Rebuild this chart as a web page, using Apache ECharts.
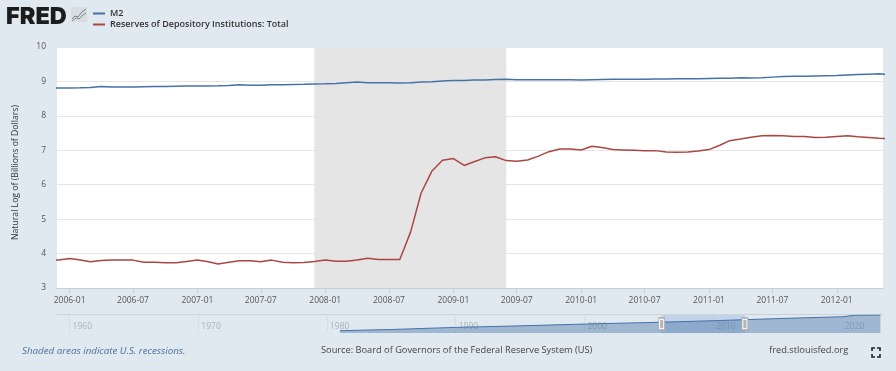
<!DOCTYPE html>
<html>
<head>
<meta charset="utf-8">
<title>M2 and Reserves</title>
<script src="https://cdn.jsdelivr.net/npm/echarts@6/dist/echarts.min.js"></script>
<style>
html, body { margin: 0; padding: 0; background: #e1e9f0; }
#main { width: 896px; height: 371px; }
</style>
</head>
<body>
<div id="main"></div>
<script>
var months = [
    '2005-11', '2005-12',
    '2006-01', '2006-02', '2006-03', '2006-04', '2006-05', '2006-06', '2006-07', '2006-08', '2006-09', '2006-10', '2006-11', '2006-12',
    '2007-01', '2007-02', '2007-03', '2007-04', '2007-05', '2007-06', '2007-07', '2007-08', '2007-09', '2007-10', '2007-11', '2007-12',
    '2008-01', '2008-02', '2008-03', '2008-04', '2008-05', '2008-06', '2008-07', '2008-08', '2008-09', '2008-10', '2008-11', '2008-12',
    '2009-01', '2009-02', '2009-03', '2009-04', '2009-05', '2009-06', '2009-07', '2009-08', '2009-09', '2009-10', '2009-11', '2009-12',
    '2010-01', '2010-02', '2010-03', '2010-04', '2010-05', '2010-06', '2010-07', '2010-08', '2010-09', '2010-10', '2010-11', '2010-12',
    '2011-01', '2011-02', '2011-03', '2011-04', '2011-05', '2011-06', '2011-07', '2011-08', '2011-09', '2011-10', '2011-11', '2011-12',
    '2012-01', '2012-02', '2012-03', '2012-04', '2012-05', '2012-06'
];

var m2 = [
    8.81, 8.81,
    8.81, 8.815, 8.825, 8.85, 8.835, 8.835, 8.84, 8.845, 8.85, 8.855, 8.86, 8.865,
    8.87, 8.87, 8.875, 8.885, 8.90, 8.89, 8.89, 8.90, 8.905, 8.91, 8.915, 8.925,
    8.93, 8.94, 8.96, 8.98, 8.96, 8.96, 8.96, 8.955, 8.965, 8.985, 8.99, 9.01,
    9.03, 9.03, 9.04, 9.04, 9.055, 9.06, 9.05, 9.05, 9.05, 9.05, 9.05, 9.05,
    9.045, 9.05, 9.055, 9.06, 9.065, 9.06, 9.065, 9.07, 9.07, 9.075, 9.08, 9.08,
    9.085, 9.09, 9.095, 9.105, 9.10, 9.11, 9.125, 9.14, 9.15, 9.15, 9.16, 9.165,
    9.17, 9.19, 9.20, 9.21, 9.22, 9.20
];

var reserves = [
    3.81, 3.81,
    3.855, 3.81, 3.76, 3.80, 3.815, 3.81, 3.81, 3.75, 3.75, 3.73, 3.73, 3.77,
    3.81, 3.76, 3.70, 3.75, 3.79, 3.79, 3.76, 3.81, 3.75, 3.73, 3.74, 3.77,
    3.81, 3.78, 3.78, 3.81, 3.865, 3.83, 3.83, 3.83, 4.63, 5.76, 6.40, 6.71,
    6.76, 6.56, 6.665, 6.78, 6.81, 6.70, 6.68, 6.72, 6.83, 6.96, 7.04, 7.04,
    7.01, 7.116, 7.08, 7.02, 7.01, 7.00, 6.99, 6.99, 6.95, 6.94, 6.95, 6.98,
    7.02, 7.145, 7.28, 7.33, 7.38, 7.42, 7.43, 7.42, 7.40, 7.40, 7.37, 7.38,
    7.40, 7.42, 7.39, 7.37, 7.35, 7.34
];

var xTicks = ['2006-01', '2006-07', '2007-01', '2007-07', '2008-01', '2008-07', '2009-01', '2009-07', '2010-01', '2010-07', '2011-01', '2011-07', '2012-01'];
var yTicks = [3, 4, 5, 6, 7, 8, 9, 10];
var recession = ['2007-12-01', '2009-06-01'];
var viewStart = '2005-11-26';
var viewEnd = '2012-05-12';

var navYears = ['1981', '1985', '1990', '1995', '2000', '2005', '2010', '2015', '2019', '2020', '2021', '2022', '2023'];
var navLevels = [7.40, 7.60, 7.95, 8.20, 8.50, 8.75, 9.05, 9.40, 9.65, 9.70, 9.95, 9.98, 10.00];
var navTicks = ['1960', '1970', '1980', '1990', '2000', '2010', '2020'];
var navFrom = '2006-01-01';
var navTo = '2012-06-20';

var FONT = '"Open Sans", sans-serif';
var BLUE = '#4572a7';
var RED = '#aa4643';

function toTime(s) {
    var p = s.split('-');
    return new Date(+p[0], (p[1] || 1) - 1, p[2] || 1).getTime();
}
function pairs(keys, vals) {
    return keys.map(function (k, i) { return [toTime(k), vals[i]]; });
}
function corner(points) {
    return {
        type: 'polyline',
        shape: { points: points },
        style: { stroke: '#222', lineWidth: 1.6, fill: null }
    };
}
function monthLabel(v) {
    var d = new Date(v);
    var m = d.getMonth() + 1;
    return d.getFullYear() + '-' + (m < 10 ? '0' + m : m);
}

var myChart = echarts.init(document.getElementById('main'), null, { renderer: 'canvas' });

// time scale breaks on customValues, so the x axes are plain value axes holding timestamps
myChart.setOption({
    animation: false,
    backgroundColor: '#e1e9f0',
    textStyle: { fontFamily: FONT },
    legend: {
        data: ['M2', 'Reserves of Depository Institutions: Total'],
        orient: 'vertical',
        left: 88,
        top: 4,
        itemWidth: 12,
        itemHeight: 2,
        itemGap: 2,
        icon: 'rect',
        selectedMode: false,
        textStyle: { color: '#333', fontSize: 9, fontWeight: 600, fontFamily: FONT }
    },
    grid: [
        { left: 57, right: 13, top: 47, height: 241, show: true, backgroundColor: '#fff', borderWidth: 0 },
        { left: 57, right: 13, top: 315, height: 18, show: false }
    ],
    xAxis: [
        {
            type: 'value',
            gridIndex: 0,
            min: toTime(viewStart),
            max: toTime(viewEnd),
            axisLine: { show: true, lineStyle: { color: '#c0d0e0', width: 1 } },
            axisTick: { show: true, length: 5, lineStyle: { color: '#c0d0e0' }, customValues: xTicks.map(toTime) },
            axisLabel: {
                color: '#555',
                fontSize: 8.5,
                margin: 8,
                hideOverlap: false,
                customValues: xTicks.map(toTime),
                formatter: monthLabel
            },
            splitLine: { show: false }
        },
        {
            type: 'value',
            gridIndex: 1,
            min: toTime('1959-01-08'),
            max: toTime('2023-03-15'),
            axisLine: { show: false },
            axisTick: {
                show: true, inside: true, length: 18,
                lineStyle: { color: '#d6dfe8' },
                customValues: navTicks.map(toTime)
            },
            axisLabel: {
                inside: true,
                color: '#aab2ba',
                fontSize: 8.5,
                margin: 2,
                align: 'left',
                padding: [0, 0, 0, 3],
                hideOverlap: false,
                customValues: navTicks.map(toTime),
                formatter: function (v) { return String(new Date(v).getFullYear()); }
            },
            splitLine: { show: false }
        }
    ],
    yAxis: [
        {
            type: 'value',
            gridIndex: 0,
            min: yTicks[0],
            max: yTicks[yTicks.length - 1],
            interval: 1,
            name: 'Natural Log of (Billions of Dollars)',
            nameLocation: 'middle',
            nameGap: 37,
            nameTextStyle: { color: '#333', fontSize: 8.7, padding: [0, 10, 0, 0] },
            axisLine: { show: false },
            axisTick: { show: false },
            axisLabel: { color: '#555', fontSize: 8.5, margin: 11 },
            splitLine: { lineStyle: { color: '#e6e6e6', width: 1 } }
        },
        {
            type: 'value',
            gridIndex: 1,
            min: 7.02,
            max: 10,
            show: false
        }
    ],
    series: [
        {
            name: 'M2',
            type: 'line',
            xAxisIndex: 0,
            yAxisIndex: 0,
            data: pairs(months, m2),
            showSymbol: false,
            z: 3,
            lineStyle: { color: BLUE, width: 1.5 },
            itemStyle: { color: BLUE },
            markArea: {
                silent: true,
                itemStyle: { color: '#e5e5e5' },
                data: [[{ xAxis: toTime(recession[0]) }, { xAxis: toTime(recession[1]) }]]
            }
        },
        {
            name: 'Reserves of Depository Institutions: Total',
            type: 'line',
            xAxisIndex: 0,
            yAxisIndex: 0,
            data: pairs(months, reserves),
            showSymbol: false,
            z: 3,
            lineStyle: { color: RED, width: 1.5 },
            itemStyle: { color: RED }
        },
        {
            name: 'navigator',
            type: 'line',
            xAxisIndex: 1,
            yAxisIndex: 1,
            data: pairs(navYears, navLevels),
            showSymbol: false,
            z: 2,
            lineStyle: { color: BLUE, width: 1 },
            areaStyle: { color: 'rgba(69,114,167,0.6)', origin: 'start' },
            markArea: {
                silent: true,
                itemStyle: { color: 'rgba(110,150,215,0.28)', borderColor: '#c9d6e4', borderWidth: 0.5 },
                data: [[{ xAxis: toTime(navFrom) }, { xAxis: toTime(navTo) }]]
            },
            markPoint: {
                silent: true,
                symbol: 'rect',
                label: { show: false },
                data: [
                    { coord: [toTime(navFrom), 8.5], symbolSize: [6, 12], itemStyle: { color: '#f4f6f8', borderColor: '#a9a9a9', borderWidth: 1 } },
                    { coord: [toTime(navFrom), 8.5], symbolSize: [3, 8], itemStyle: { color: '#b5b5b5' } },
                    { coord: [toTime(navTo), 8.5], symbolSize: [6, 12], itemStyle: { color: '#f4f6f8', borderColor: '#a9a9a9', borderWidth: 1 } },
                    { coord: [toTime(navTo), 8.5], symbolSize: [3, 8], itemStyle: { color: '#b5b5b5' } }
                ]
            }
        }
    ],
    graphic: [
        // logo
        { type: 'text', left: 6, top: 5, style: { text: 'FRED', fill: '#1c1c1c', font: '900 23.5px Inter, sans-serif' } },
        { type: 'rect', shape: { x: 71, y: 7, width: 16, height: 15 }, style: { fill: '#d9dde0' } },
        { type: 'polyline', shape: { points: [[72, 19], [75, 16], [78, 17], [82, 12], [86, 9]] }, style: { stroke: '#6c83a0', lineWidth: 1, fill: null } },
        { type: 'polyline', shape: { points: [[72, 21], [76, 18], [79, 19], [83, 15], [86, 13]] }, style: { stroke: '#888', lineWidth: 1, fill: null } },
        // navigator rule
        { type: 'line', shape: { x1: 57, y1: 314.5, x2: 883, y2: 314.5 }, style: { stroke: '#ccd2d8', lineWidth: 1 } },
        // footer
        { type: 'text', left: 22, top: 346, style: { text: 'Shaded areas indicate U.S. recessions.', fill: '#4a6f9c', font: 'italic 9.75px "Open Sans", sans-serif' } },
        { type: 'text', left: 321, top: 346, style: { text: 'Source: Board of Governors of the Federal Reserve System (US)', fill: '#444', font: '9.25px "Open Sans", sans-serif' } },
        { type: 'text', left: 769, top: 346, style: { text: 'fred.stlouisfed.org', fill: '#444', font: '9.3px "Open Sans", sans-serif' } },
        // fullscreen icon
        corner([[872, 351], [872, 348], [875, 348]]),
        corner([[877, 348], [880, 348], [880, 351]]),
        corner([[872, 354], [872, 357], [875, 357]]),
        corner([[877, 357], [880, 357], [880, 354]])
    ]
});
</script>
</body>
</html>
